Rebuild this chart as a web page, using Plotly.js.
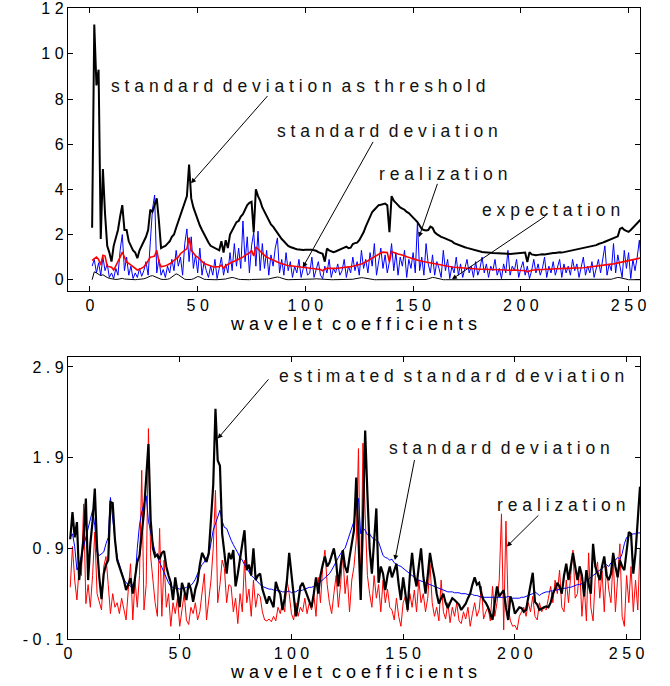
<!DOCTYPE html>
<html>
<head>
<meta charset="utf-8">
<script src="https://cdn.plot.ly/plotly-3.0.1.min.js"></script>
<style>html,body{margin:0;padding:0;background:#fff;}</style>
</head>
<body>
<div id="chart" style="width:670px;height:686px;"></div>
<script>
// ---------- TOP PANEL DATA (x = 1..256) ----------
const topThreshold = [
2.3,11.3,8.6,9.3,1.8,4.9,2.9,1.5,1.2,0.8,1.5,1.9,2.2,2.8,3.3,2.2,
2.2,1.7,1.5,1.3,1.2,0.95,1.3,1.5,1.7,1.9,2.2,3.1,3.0,3.3,3.6,2.6,
1.4,1.45,1.5,1.6,1.7,1.9,2.0,2.3,2.6,2.8,3.1,3.4,3.7,5.1,3.6,3.2,
2.9,2.7,2.4,2.2,2.0,1.8,1.65,1.5,1.45,1.4,1.35,1.3,1.7,1.2,1.75,1.4,
2.0,2.2,2.4,2.55,2.6,2.8,2.9,3.1,3.3,3.4,3.45,2.1,4.0,3.7,3.5,3.2,
3.0,2.8,2.65,2.45,2.35,2.2,2.05,1.9,1.8,1.7,1.6,1.5,1.45,1.4,1.38,1.35,
1.33,1.33,1.32,1.33,1.34,1.32,1.33,1.3,1.28,1.22,1.2,1.15,0.8,1.38,1.3,1.25,
1.22,1.25,1.3,1.33,1.38,1.42,1.46,1.4,1.42,1.58,1.62,1.64,1.75,1.9,2.1,2.35,
2.55,2.8,3.0,3.1,3.2,3.3,3.32,3.35,3.37,3.3,2.1,3.7,3.5,3.4,3.3,3.2,
3.15,3.1,3.0,2.95,2.85,2.75,2.65,2.55,2.4,2.25,2.2,2.18,2.2,2.35,2.3,2.1,
2.02,1.95,1.9,1.86,1.82,1.78,1.75,1.7,1.62,1.58,1.53,1.5,1.47,1.44,1.41,1.38,
1.36,1.33,1.3,1.28,1.26,1.23,1.22,1.2,1.2,1.19,1.18,1.18,1.17,1.18,1.16,1.15,
1.16,1.15,1.14,1.15,1.15,1.16,1.18,1.2,1.22,1.2,0.78,1.22,1.12,1.1,1.08,1.1,
1.12,1.13,1.12,1.14,1.15,1.16,1.18,1.18,1.2,1.21,1.2,1.22,1.23,1.25,1.26,1.28,
1.3,1.32,1.34,1.36,1.38,1.4,1.42,1.45,1.47,1.5,1.53,1.58,1.6,1.64,1.68,1.72,
1.76,1.8,1.83,1.86,1.92,2.25,2.3,2.2,2.15,2.12,2.2,2.3,2.4,2.5,2.6,2.7];

const topExpectation = [
0.0,0.35,0.3,0.25,0.18,0.22,0.15,0.1,0.06,0.04,0.02,0.01,0.02,0.04,0.06,0.03,
0.02,0.01,0.0,0.0,0.0,0.01,0.01,0.02,0.04,0.07,0.12,0.16,0.18,0.14,0.08,0.04,
0.02,0.01,0.01,0.02,0.05,0.12,0.2,0.26,0.22,0.14,0.06,0.02,0.01,0.0,0.01,0.04,
0.08,0.14,0.12,0.06,0.02,0.01,0.0,0.0,0.0,0.0,0.0,0.0,0.0,0.01,0.03,0.06,
0.09,0.1,0.08,0.04,0.02,0.01,0.0,0.0,0.0,0.0,0.01,0.01,0.0,0.0,0.0,0.0,
0.0,0.01,0.03,0.06,0.09,0.11,0.12,0.1,0.06,0.03,0.01,0.0,0.0,0.0,0.0,0.0,
0.0,0.0,0.0,0.0,0.0,0.01,0.02,0.03,0.04,0.03,0.02,0.01,0.0,0.0,0.0,0.0,
0.0,0.0,0.0,0.0,0.0,0.0,0.0,0.0,0.01,0.02,0.04,0.06,0.08,0.09,0.08,0.06,
0.04,0.02,0.01,0.0,0.0,0.0,0.0,0.0,0.0,0.0,0.0,0.0,0.0,0.0,0.0,0.0,
0.0,0.0,0.0,0.0,0.0,0.0,0.0,0.0,0.0,0.0,0.0,0.01,0.04,0.08,0.1,0.09,
0.06,0.03,0.01,0.0,0.0,0.0,0.0,0.0,0.0,0.0,0.0,0.0,0.0,0.0,0.0,0.0,
0.0,0.0,0.0,0.0,0.0,0.0,0.0,0.0,0.0,0.0,0.0,0.0,0.0,0.0,0.0,0.0,
0.0,0.0,0.0,0.0,0.0,0.0,0.0,0.0,0.0,0.0,0.0,0.0,0.0,0.0,0.0,0.0,
0.0,0.0,0.0,0.0,0.0,0.0,0.0,0.0,0.0,0.0,0.0,0.0,0.0,0.0,0.0,0.0,
0.0,0.0,0.0,0.0,0.0,0.0,0.0,0.0,0.0,0.0,0.0,0.0,0.0,0.0,0.0,0.0,
0.0,0.02,0.05,0.08,0.1,0.09,0.06,0.03,0.01,0.0,0.0,0.0,0.0,0.0,0.0,0.0];

const topStd = [
0.86,0.95,1.0,0.9,0.65,1.08,1.05,0.6,0.57,0.55,0.43,0.6,0.78,1.0,1.22,0.95,
0.78,0.72,0.65,0.55,0.48,0.43,0.46,0.52,0.57,0.68,0.82,1.0,1.02,1.05,1.3,0.8,
0.57,0.58,0.62,0.65,0.7,0.76,0.86,0.92,1.0,1.15,1.22,1.3,1.38,1.86,1.3,1.18,
1.05,1.0,0.9,0.8,0.72,0.68,0.64,0.6,0.57,0.56,0.57,0.58,0.65,0.5,0.62,0.68,
0.72,0.78,0.82,0.86,0.9,0.95,1.0,1.08,1.12,1.18,1.3,1.05,1.45,1.35,1.25,1.15,
1.08,1.0,0.95,0.9,0.86,0.82,0.78,0.74,0.7,0.67,0.65,0.63,0.62,0.6,0.59,0.58,
0.57,0.56,0.55,0.55,0.54,0.52,0.5,0.49,0.48,0.46,0.45,0.4,0.48,0.5,0.49,0.48,
0.5,0.5,0.51,0.5,0.52,0.53,0.55,0.57,0.58,0.6,0.62,0.64,0.66,0.7,0.74,0.78,
0.84,0.9,0.96,1.02,1.08,1.12,1.18,1.22,1.22,1.2,0.78,1.26,1.2,1.16,1.14,1.12,
1.1,1.06,1.02,0.98,0.95,0.93,0.9,0.86,0.84,0.82,0.8,0.78,0.76,0.73,0.72,0.7,
0.68,0.66,0.64,0.62,0.6,0.58,0.57,0.56,0.55,0.54,0.53,0.52,0.51,0.5,0.5,0.49,
0.48,0.48,0.47,0.47,0.46,0.46,0.46,0.45,0.45,0.44,0.44,0.44,0.43,0.43,0.43,0.43,
0.43,0.42,0.43,0.43,0.42,0.43,0.42,0.42,0.41,0.4,0.35,0.4,0.42,0.43,0.44,0.44,
0.45,0.45,0.46,0.46,0.46,0.47,0.47,0.48,0.48,0.49,0.49,0.5,0.5,0.5,0.51,0.51,
0.52,0.52,0.53,0.53,0.53,0.54,0.55,0.56,0.57,0.58,0.6,0.61,0.62,0.63,0.64,0.66,
0.68,0.69,0.7,0.72,0.73,0.76,0.78,0.78,0.8,0.82,0.84,0.86,0.88,0.9,0.94,0.97];

const topRealization = [
0.6,0.9,0.3,0.75,0.2,1.0,0.4,0.7,0.1,0.3,0.05,0.5,0.2,1.3,2.0,0.4,
1.0,0.2,0.6,0.05,0.3,0.1,0.5,0.15,0.4,0.8,0.2,1.5,3.1,3.75,0.3,0.9,
0.2,0.45,0.1,0.6,0.3,0.9,0.4,1.3,0.6,1.0,0.2,1.6,2.25,0.8,1.9,0.5,
1.1,0.3,1.4,0.2,0.8,0.4,0.1,0.6,0.2,0.9,0.05,0.5,1.0,0.2,0.7,0.3,
1.2,0.4,1.6,0.6,1.4,0.5,2.6,0.8,1.9,0.3,1.5,2.1,0.6,2.15,0.4,1.6,
0.5,1.3,0.2,1.1,0.6,1.4,1.85,0.3,0.9,0.2,1.2,0.4,0.8,0.1,0.6,0.3,
0.9,0.1,0.5,0.7,0.2,0.3,1.0,0.1,0.4,0.8,0.2,0.05,0.6,0.3,0.9,0.1,
0.5,0.3,0.7,0.2,0.4,0.9,0.1,0.6,0.3,1.0,0.4,0.8,0.2,1.3,0.5,0.9,
0.3,1.2,0.6,1.6,0.2,0.9,1.4,0.5,1.1,0.3,0.8,1.6,0.4,1.2,0.2,1.0,
0.6,1.3,0.1,0.9,0.5,1.2,0.3,2.55,0.4,1.0,0.2,1.6,0.7,0.3,1.1,0.2,
0.8,0.5,0.1,1.3,0.4,0.9,0.05,0.6,0.3,1.0,0.2,0.7,0.1,0.5,0.9,0.3,
0.6,0.1,0.8,0.2,0.5,1.0,0.3,0.7,0.1,0.6,0.4,0.9,0.2,0.5,0.05,0.7,
0.3,1.3,0.2,0.6,0.4,0.9,0.1,0.5,0.8,0.2,0.6,0.05,0.4,0.9,0.3,0.7,
0.2,0.5,1.0,0.1,0.6,0.3,0.8,0.2,0.5,0.9,0.1,0.7,0.3,0.6,0.2,0.9,
0.4,0.7,0.1,0.5,1.0,0.2,0.6,0.3,0.8,0.1,0.5,0.9,0.3,1.0,1.5,0.2,
0.7,0.4,1.6,0.3,1.1,0.6,0.1,1.3,0.5,1.2,0.05,0.9,0.4,1.0,1.75,0.6];

// ---------- BOTTOM PANEL DATA (x = 1..256) ----------
const botStd = [
1.02,1.06,0.92,0.66,0.72,0.82,0.92,1.0,1.1,1.22,1.32,1.15,0.86,0.82,0.84,0.86,
0.95,1.02,1.46,1.2,1.0,0.8,0.72,0.64,0.56,0.52,0.5,0.48,0.5,0.54,0.9,1.16,
1.3,1.4,1.48,1.2,1.06,0.96,0.86,0.8,0.74,0.68,0.62,0.58,0.52,0.48,0.47,0.46,
0.46,0.45,0.46,0.46,0.47,0.48,0.49,0.52,0.56,0.62,0.68,0.72,0.75,0.8,0.82,0.95,
1.1,1.17,1.25,1.32,1.2,1.13,1.12,1.05,0.99,0.94,0.9,0.85,0.8,0.77,0.72,0.68,
0.64,0.6,0.58,0.55,0.52,0.5,0.48,0.47,0.46,0.45,0.45,0.44,0.44,0.43,0.43,0.42,
0.42,0.42,0.43,0.41,0.42,0.42,0.44,0.43,0.44,0.45,0.46,0.47,0.47,0.48,0.5,0.51,
0.53,0.55,0.58,0.6,0.62,0.66,0.7,0.75,0.8,0.84,0.88,0.9,0.98,1.06,1.13,1.2,
1.35,1.45,1.06,1.12,1.1,1.05,1.06,1.02,1.0,0.99,0.97,0.9,0.82,0.8,0.79,0.77,
0.78,0.74,0.72,0.71,0.7,0.68,0.65,0.63,0.61,0.59,0.57,0.56,0.55,0.54,0.53,0.52,
0.51,0.5,0.49,0.48,0.47,0.46,0.45,0.44,0.43,0.42,0.42,0.42,0.41,0.41,0.41,0.4,
0.4,0.4,0.39,0.4,0.39,0.38,0.38,0.37,0.36,0.36,0.36,0.36,0.36,0.36,0.36,0.36,
0.36,0.36,0.36,0.36,0.37,0.36,0.35,0.35,0.35,0.35,0.36,0.36,0.37,0.38,0.39,0.4,
0.42,0.4,0.38,0.4,0.41,0.42,0.42,0.43,0.43,0.44,0.44,0.45,0.45,0.46,0.46,0.47,
0.47,0.48,0.49,0.5,0.5,0.51,0.52,0.54,0.56,0.58,0.6,0.62,0.65,0.66,0.68,0.7,
0.72,0.7,0.74,0.76,0.77,0.8,0.78,0.84,0.95,1.02,1.04,1.05,1.06,1.06,1.07,1.07];

const botEstimate = [
1.0,1.3,1.02,1.19,0.55,0.81,1.02,1.45,0.55,0.95,1.2,1.56,0.92,0.58,0.34,0.62,
0.72,0.77,1.41,1.4,1.0,0.77,0.7,0.62,0.55,0.44,0.5,0.57,0.4,0.55,0.75,0.82,
1.06,1.3,1.68,2.05,1.21,0.9,0.81,0.83,0.78,0.85,0.87,0.7,0.6,0.52,0.33,0.58,
0.42,0.25,0.52,0.44,0.33,0.52,0.45,0.31,0.45,0.53,0.72,0.85,0.8,0.75,0.85,1.2,
1.6,2.44,1.87,1.81,1.06,0.85,0.62,0.85,0.78,0.88,0.48,0.62,0.81,0.95,1.1,0.66,
0.72,0.6,0.9,0.55,0.6,0.62,0.45,0.38,0.29,0.37,0.3,0.25,0.53,0.45,0.4,0.22,
0.35,0.55,0.85,0.6,0.4,0.15,0.3,0.48,0.52,0.45,0.37,0.3,0.25,0.4,0.58,0.4,
0.6,0.72,0.81,0.7,0.74,0.82,0.9,0.75,0.48,0.7,0.88,0.7,0.63,0.8,0.95,1.1,
1.68,0.99,0.33,1.2,2.2,1.5,0.9,0.62,1.0,1.34,0.52,0.7,0.62,0.44,0.6,0.7,
0.58,0.65,0.73,0.5,0.33,0.58,0.4,0.22,0.6,0.85,0.6,0.48,0.7,0.9,0.6,0.4,
0.6,0.85,0.7,0.58,0.4,0.29,0.35,0.4,0.3,0.24,0.3,0.35,0.33,0.31,0.28,0.22,
0.25,0.29,0.35,0.4,0.5,0.58,0.5,0.52,0.4,0.33,0.3,0.25,0.18,0.11,0.3,0.48,
0.37,0.4,0.44,0.25,0.11,0.37,0.3,0.18,0.22,0.25,0.24,0.2,0.22,0.35,0.52,0.63,
0.31,0.28,0.22,0.24,0.25,0.26,0.25,0.3,0.4,0.45,0.52,0.48,0.4,0.6,0.73,0.55,
0.7,0.85,0.7,0.55,0.7,0.6,0.37,0.66,0.5,0.4,0.95,0.7,0.62,0.55,0.7,0.81,
0.6,0.55,0.62,0.85,0.7,0.58,0.77,0.7,0.66,0.9,1.08,1.06,0.62,0.85,1.2,1.58];

const botRealization = [
0.47,0.92,0.55,0.33,0.7,0.6,1.39,0.29,0.5,0.25,0.6,1.08,0.4,0.3,0.22,0.7,
0.81,0.5,0.18,0.4,0.25,0.3,0.18,0.35,0.22,0.11,0.45,0.73,0.11,0.55,0.25,0.6,
1.76,0.22,0.5,2.22,0.81,0.55,0.3,0.15,1.12,0.15,0.77,0.25,0.4,0.04,0.3,0.18,
0.35,0.04,0.22,0.4,0.11,0.06,0.25,0.18,0.3,0.11,0.2,0.4,0.62,0.11,0.3,0.55,
0.9,1.54,0.3,0.5,0.77,0.68,0.3,0.5,0.48,0.2,0.35,0.07,0.4,0.2,0.77,0.3,
0.45,0.15,0.55,0.25,0.4,0.37,0.2,0.11,0.1,0.12,0.09,0.15,0.1,0.25,0.18,0.3,
0.2,0.55,0.4,0.18,0.11,0.3,0.15,0.25,0.2,0.35,0.18,0.3,0.22,0.4,0.15,0.58,
0.3,0.7,0.88,0.5,0.3,0.18,0.4,0.6,0.25,0.5,0.85,0.4,0.6,0.2,0.55,0.7,
0.99,2.0,0.33,2.06,1.28,0.6,0.4,0.25,0.6,0.35,0.5,0.2,0.55,0.3,0.45,0.25,
0.22,0.11,0.35,0.15,0.04,0.3,0.37,0.2,0.4,0.25,0.44,0.2,0.55,0.3,0.4,0.2,
0.35,0.73,0.3,0.15,0.25,0.1,0.55,0.2,0.12,0.3,0.08,0.25,0.15,0.3,0.1,0.07,
0.2,0.12,0.25,0.04,0.18,0.3,0.15,0.22,0.48,0.12,0.2,0.25,0.1,0.48,0.15,0.3,
0.55,1.28,0.0,1.2,0.25,0.1,0.04,0.05,0.0,0.15,0.2,0.25,0.15,0.3,0.2,0.37,
0.15,0.11,0.3,0.2,0.25,0.22,0.35,0.48,0.3,0.55,0.4,0.66,0.25,0.2,0.55,0.3,
0.6,0.88,0.35,0.4,0.7,0.15,0.5,0.1,0.85,0.25,0.1,0.6,0.75,0.35,0.65,0.2,
0.7,0.45,0.3,0.8,0.2,0.6,0.95,0.15,0.04,0.6,0.3,0.7,0.2,0.55,0.22,0.9];

// ---------- AXIS TICKS ----------
const topXTicks = [0, 50, 100, 150, 200, 250];
const topXLabels = ['0', '50', '100', '150', '200', '250'];
const topYTicks = [0, 2, 4, 6, 8, 10, 12];
const topYLabels = ['0', '2', '4', '6', '8', '10', '12'];
const botXTicks = [0, 50, 100, 150, 200, 250];
const botXLabels = ['0', '50', '100', '150', '200', '250'];
const botYTicks = [-0.1, 0.9, 1.9, 2.9];
const botYLabels = ['-0.1', '0.9', '1.9', '2.9'];

const xTitle = 'wavelet coefficients';
const topLabels = ['standard deviation as threshold', 'standard deviation', 'realization', 'expectation'];
const botLabels = ['estimated standard deviation', 'standard deviation', 'realization'];

// ---------- helpers ----------
// letter-spaced rendering of a label (the reference draws every label with wide tracking)
function spaced(s, gap) {
  return s.split(' ').map(w => w.split('').join(' ')).join(gap);
}
const tickSp = s => s.split('').join('\u00a0');
const idx = a => a.map((_, i) => i + 1);
const FONT = 'Liberation Sans, Arial, sans-serif';

const traces = [
  {x: idx(topRealization), y: topRealization, xaxis: 'x', yaxis: 'y', mode: 'lines', line: {color: '#0000ff', width: 1}},
  {x: idx(topStd), y: topStd, xaxis: 'x', yaxis: 'y', mode: 'lines', line: {color: '#ff0000', width: 1.6}},
  {x: idx(topExpectation), y: topExpectation, xaxis: 'x', yaxis: 'y', mode: 'lines', line: {color: '#000000', width: 1}},
  {x: idx(topThreshold), y: topThreshold, xaxis: 'x', yaxis: 'y', mode: 'lines', line: {color: '#000000', width: 2}},
  {x: idx(botRealization), y: botRealization, xaxis: 'x2', yaxis: 'y2', mode: 'lines', line: {color: '#ff0000', width: 1}},
  {x: idx(botStd), y: botStd, xaxis: 'x2', yaxis: 'y2', mode: 'lines', line: {color: '#0000ff', width: 1}},
  {x: idx(botEstimate), y: botEstimate, xaxis: 'x2', yaxis: 'y2', mode: 'lines', line: {color: '#000000', width: 2.2}}
];

function axis(extra) {
  return Object.assign({
    showgrid: false, zeroline: false, showline: true, mirror: 'allticks',
    linecolor: '#000', linewidth: 1.2, ticks: 'inside', ticklen: 5, tickcolor: '#000',
    tickmode: 'array', tickfont: {family: FONT, size: 16, color: '#000'}
  }, extra);
}

function textAnn(xr, yr, x, y, s) {
  return {xref: xr, yref: yr, x: x, y: y, text: spaced(s, ' \u00a0'), showarrow: false,
    xanchor: 'center', yanchor: 'middle', font: {family: FONT, size: 17.5, color: '#111'}};
}
function arrowAnn(xr, yr, x, y, ax, ay) {
  return {xref: xr, yref: yr, axref: xr, ayref: yr, x: x, y: y, ax: ax, ay: ay, text: '',
    showarrow: true, arrowhead: 2, arrowsize: 1, arrowwidth: 1, arrowcolor: '#000'};
}
const titleObj = so => ({text: spaced(xTitle, '\u00a0 '), font: {family: FONT, size: 18, color: '#000'}, standoff: so});

const layout = {
  width: 670, height: 686,
  margin: {l: 68, r: 30, t: 8, b: 47},
  paper_bgcolor: '#fff', plot_bgcolor: '#fff',
  showlegend: false,
  xaxis: axis({domain: [0, 1], range: [-10.2, 255.3], tickvals: topXTicks, ticktext: topXLabels.map(tickSp), anchor: 'y',
    title: titleObj(0)}),
  yaxis: axis({domain: [0.5515, 1], range: [-0.5, 12.03], tickvals: topYTicks, ticktext: topYLabels.map(tickSp), anchor: 'x'}),
  xaxis2: axis({domain: [0, 1], range: [0, 256], tickvals: botXTicks, ticktext: botXLabels.map(tickSp), anchor: 'y2',
    title: titleObj(4)}),
  yaxis2: axis({domain: [0, 0.4469], range: [-0.1, 3.01], tickvals: botYTicks, ticktext: botYLabels.map(tickSp), anchor: 'x2'}),
  annotations: [
    textAnn('x', 'y', 97, 8.56, topLabels[0]),
    arrowAnn('x', 'y', 46.9, 4.27, 83, 8.2),
    textAnn('x', 'y', 138.3, 6.57, topLabels[1]),
    arrowAnn('x', 'y', 98.8, 0.55, 131.8, 6.17),
    textAnn('x', 'y', 164, 4.7, topLabels[2]),
    arrowAnn('x', 'y', 152.7, 1.88, 161.5, 4.31),
    textAnn('x', 'y', 214, 3.1, topLabels[3]),
    arrowAnn('x', 'y', 168, 0.02, 212, 2.85),
    textAnn('x2', 'y2', 171.8, 2.8, botLabels[0]),
    arrowAnn('x2', 'y2', 67, 2.11, 90.3, 2.78),
    textAnn('x2', 'y2', 192.9, 2.01, botLabels[1]),
    arrowAnn('x2', 'y2', 146.3, 0.77, 155.2, 1.89),
    textAnn('x2', 'y2', 220.7, 1.38, botLabels[2]),
    arrowAnn('x2', 'y2', 196.4, 0.92, 211.2, 1.28)
  ]
};

Plotly.newPlot('chart', traces, layout, {displayModeBar: false, staticPlot: true});
</script>
</body>
</html>
